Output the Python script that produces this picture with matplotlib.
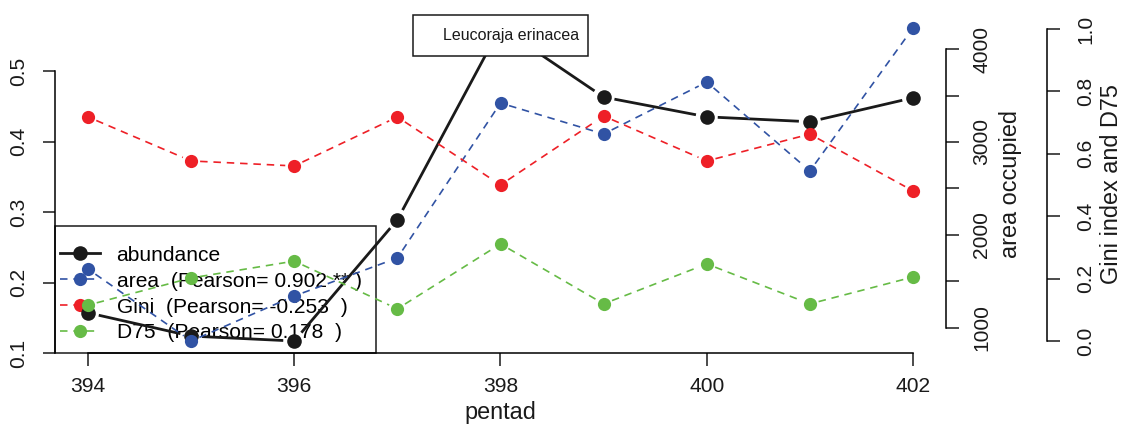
import matplotlib.pyplot as plt
import numpy as np
from matplotlib.lines import Line2D
from matplotlib.patches import Rectangle

# data
pentad = [394, 395, 396, 397, 398, 399, 400, 401, 402]
abundance = [0.157, 0.124, 0.117, 0.289, 0.562, 0.463, 0.435, 0.428, 0.462]
area = [1634, 860, 1344, 1753, 3419, 3086, 3645, 2688, 4226]
gini = [0.718, 0.577, 0.561, 0.718, 0.500, 0.721, 0.577, 0.663, 0.481]
d75 = [0.115, 0.202, 0.256, 0.103, 0.311, 0.119, 0.247, 0.119, 0.205]

left_ticks = [0.1, 0.2, 0.3, 0.4, 0.5]
area_ticks = [1000, 1500, 2000, 2500, 3000, 3500, 4000]
area_labels = ["1000", "", "2000", "", "3000", "", "4000"]
gini_ticks = [0.0, 0.2, 0.4, 0.6, 0.8, 1.0]
x_ticks = [394, 396, 398, 400, 402]

labels = ["abundance",
          "area  (Pearson= 0.902 ** )",
          "Gini  (Pearson= -0.253  )",
          "D75  (Pearson= 0.178  )"]
species = "Leucoraja erinacea"

BLACK = "#1a1a1a"
BLUE = "#3153a4"
RED = "#ee2027"
GREEN = "#66bb46"

plt.rcParams['font.family'] = ['Liberation Sans', 'DejaVu Sans']

W, H = 1127, 429
fig = plt.figure(figsize=(W / 100, H / 100), dpi=100)
ax = fig.add_axes([55 / W, (H - 353) / H, 891 / W, 338.4 / H])
ax2 = ax.twinx()
ax3 = ax.twinx()

ax.set_xlim(393.68, 402.32)
ax.set_ylim(0.1, 0.58)
ax2.set_ylim(731, 4370)
ax3.set_ylim(-0.0385, 1.046)

FS = 15.1
FL = 16.9
for a in (ax, ax2, ax3):
    for s in a.spines.values():
        s.set_visible(False)
        s.set_linewidth(1.1)
    a.tick_params(length=9, width=1.1, labelsize=FS, color=BLACK, labelcolor=BLACK)

ax.spines["left"].set_visible(True)
ax.spines["left"].set_bounds(0.1, 0.5)
ax.spines["bottom"].set_visible(True)
ax.spines["bottom"].set_bounds(394, 402)
ax.set_xticks(x_ticks)
ax.set_yticks(left_ticks)
ax.set_yticklabels([f"{t:.1f}" for t in left_ticks], rotation=90, va="center")
ax.tick_params(axis="x", pad=8)
ax.tick_params(axis="y", pad=10)

ax2.spines["right"].set_visible(True)
ax2.spines["right"].set_bounds(1000, 4000)
ax2.set_yticks(area_ticks)
ax2.set_yticklabels(area_labels, rotation=90, va="center")
ax2.tick_params(axis="y", pad=10)

ax3.spines["right"].set_visible(True)
ax3.spines["right"].set_position(("axes", 1.1134))
ax3.spines["right"].set_bounds(0, 1)
ax3.set_yticks(gini_ticks)
ax3.set_yticklabels([f"{t:.1f}" for t in gini_ticks], rotation=90, va="center")
ax3.tick_params(axis="y", pad=12)


def draw_b(a, x, y, color, lw, ls, gap, ms, z=3):
    # R style type="b": points joined by lines that stop short of each point
    a.plot(x, y, "o", color=color, ms=ms, mec="none", zorder=z + 1)
    pts = a.transData.transform(np.column_stack([x, y]))
    inv = a.transData.inverted()
    for p, q in zip(pts[:-1], pts[1:]):
        d = q - p
        L = np.hypot(*d)
        if L <= 2 * gap:
            continue
        u = d / L
        seg = inv.transform([p + u * gap, q - u * gap])
        a.plot(seg[:, 0], seg[:, 1], color=color, lw=lw, ls=ls, zorder=z,
               solid_capstyle="butt", dash_capstyle="butt")


dash = (0, (4.5, 3.5))
draw_b(ax, pentad, abundance, BLACK, 2.0, "-", 11, 10.5)
draw_b(ax2, pentad, area, BLUE, 1.2, dash, 9, 9.5)
draw_b(ax3, pentad, gini, RED, 1.2, dash, 9, 9.5)
draw_b(ax3, pentad, d75, GREEN, 1.2, dash, 9, 9.5)

# legend
handles = [
    Line2D([], [], color=BLACK, lw=2.0, marker="o", ms=10.5, mec="none"),
    Line2D([], [], color=BLUE, lw=1.2, ls=dash, marker="o", ms=9.5, mec="none"),
    Line2D([], [], color=RED, lw=1.2, ls=dash, marker="o", ms=9.5, mec="none"),
    Line2D([], [], color=GREEN, lw=1.2, ls=dash, marker="o", ms=9.5, mec="none"),
]
leg = ax.legend(handles, labels, loc="center left", bbox_to_anchor=(0.0056, 0.174),
                frameon=False, fontsize=FS, handlelength=1.9, handletextpad=0.8,
                labelspacing=0.33, borderpad=0, borderaxespad=0)
leg.set_zorder(1)
ax.add_patch(Rectangle((0, 0), 0.3603, 0.3753, transform=ax.transAxes, fill=False,
                       ec=BLACK, lw=1.1, zorder=1, clip_on=False))

# species box
ax.add_patch(Rectangle((0.4018, 0.8777), 0.1964, 0.1212, transform=ax.transAxes,
                       fc="white", ec=BLACK, lw=1.1, zorder=8, clip_on=False))
ax.text(0.5118, 0.9397, species, transform=ax.transAxes, ha="center", va="center",
        fontsize=11.5, color=BLACK, zorder=9)

fig.text(500.5 / W, 1 - 413 / H, "pentad", ha="center", va="center", fontsize=FL, color=BLACK)
fig.text(1010 / W, 1 - 184 / H, "area occupied", ha="center", va="center",
         rotation=90, fontsize=FL, color=BLACK)
fig.text(1111 / W, 1 - 184 / H, "Gini index and D75", ha="center", va="center",
         rotation=90, fontsize=FL, color=BLACK)

fig.savefig("out.png", dpi=100)
